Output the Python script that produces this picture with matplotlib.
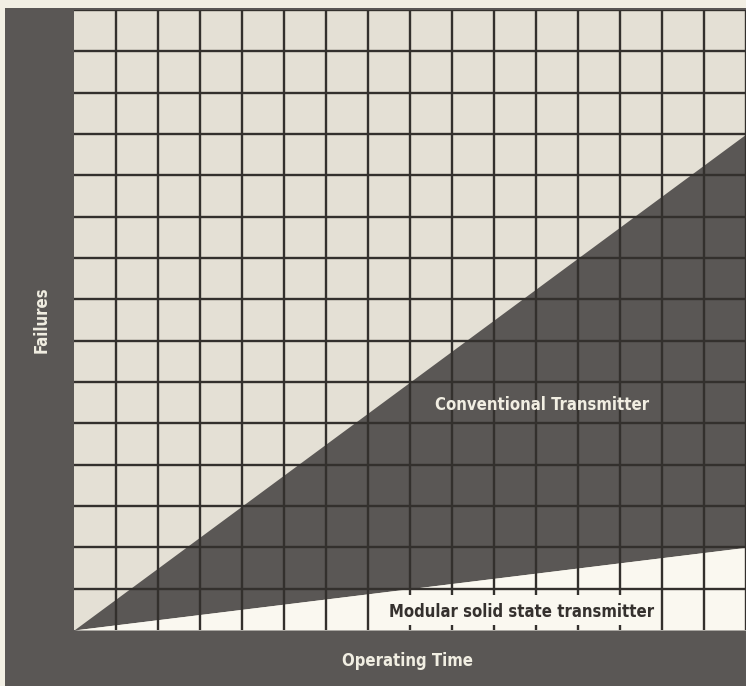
import matplotlib
matplotlib.use("Agg")
import matplotlib.pyplot as plt
from matplotlib.patches import Rectangle

# operating time (grid cells) vs failures for the two transmitter types
operating_time = [0, 16]
conventional_failures = [0, 12]
modular_failures = [0, 2]

x_cells = 16
y_cells = 15

PAPER = "#f2efe4"
GRID_BG = "#e4e0d5"
DARK = "#5a5755"
WHITE = "#faf8f0"
LINE = "#33302d"
LIGHT_TEXT = "#f1eee2"

plt.rcParams["font.family"] = ["DejaVu Sans"]
plt.rcParams["font.stretch"] = "condensed"

W, H = 746, 686
fig = plt.figure(figsize=(W / 100, H / 100), dpi=100, facecolor=PAPER)

# dark frame behind the grid (left and bottom bands)
frame = fig.add_axes([5 / W, 0, 1 - 5 / W, (H - 8) / H], zorder=0)
frame.set_axis_off()
frame.add_patch(Rectangle((0, 0), 1, 1, transform=frame.transAxes,
                          facecolor=DARK, edgecolor="none"))

ax = fig.add_axes([74 / W, (H - 630) / H, (W - 74) / W, 620 / H], zorder=1)
ax.set_facecolor(GRID_BG)
ax.set_xlim(0, x_cells)
ax.set_ylim(0, y_cells)

ax.fill_between(operating_time, modular_failures, conventional_failures,
                color=DARK, lw=0, zorder=1)
ax.fill_between(operating_time, 0, modular_failures,
                color=WHITE, lw=0, zorder=1)

for i in range(1, x_cells + 1):
    ax.axvline(i, color=LINE, lw=1.7, zorder=2)
for j in range(1, y_cells + 1):
    ax.axhline(j, color=LINE, lw=1.7, zorder=2)

# white panel behind the modular label, leaving short tick stubs
ax.add_patch(Rectangle((7.05, 0.13), 6.9, 0.72, facecolor=WHITE,
                       edgecolor="none", zorder=3))

ax.text(10.65, 0.43, "Modular solid state transmitter", ha="center",
        va="center", fontsize=12, fontweight="bold", color="#35312e", zorder=4)
ax.text(11.15, 5.45, "Conventional Transmitter", ha="center", va="center",
        fontsize=12, fontweight="bold", color=LIGHT_TEXT, zorder=4)

for s in ax.spines.values():
    s.set_visible(False)
ax.set_xticks([])
ax.set_yticks([])

fig.text(408 / W, 1 - 661 / H, "Operating Time", ha="center", va="center",
         fontsize=12, fontweight="bold", color=LIGHT_TEXT, zorder=3)
fig.text(42 / W, 1 - 320 / H, "Failures", ha="center", va="center",
         rotation=90, fontsize=12, fontweight="bold", color=LIGHT_TEXT, zorder=3)

fig.savefig("out.png", dpi=100, facecolor=PAPER)
